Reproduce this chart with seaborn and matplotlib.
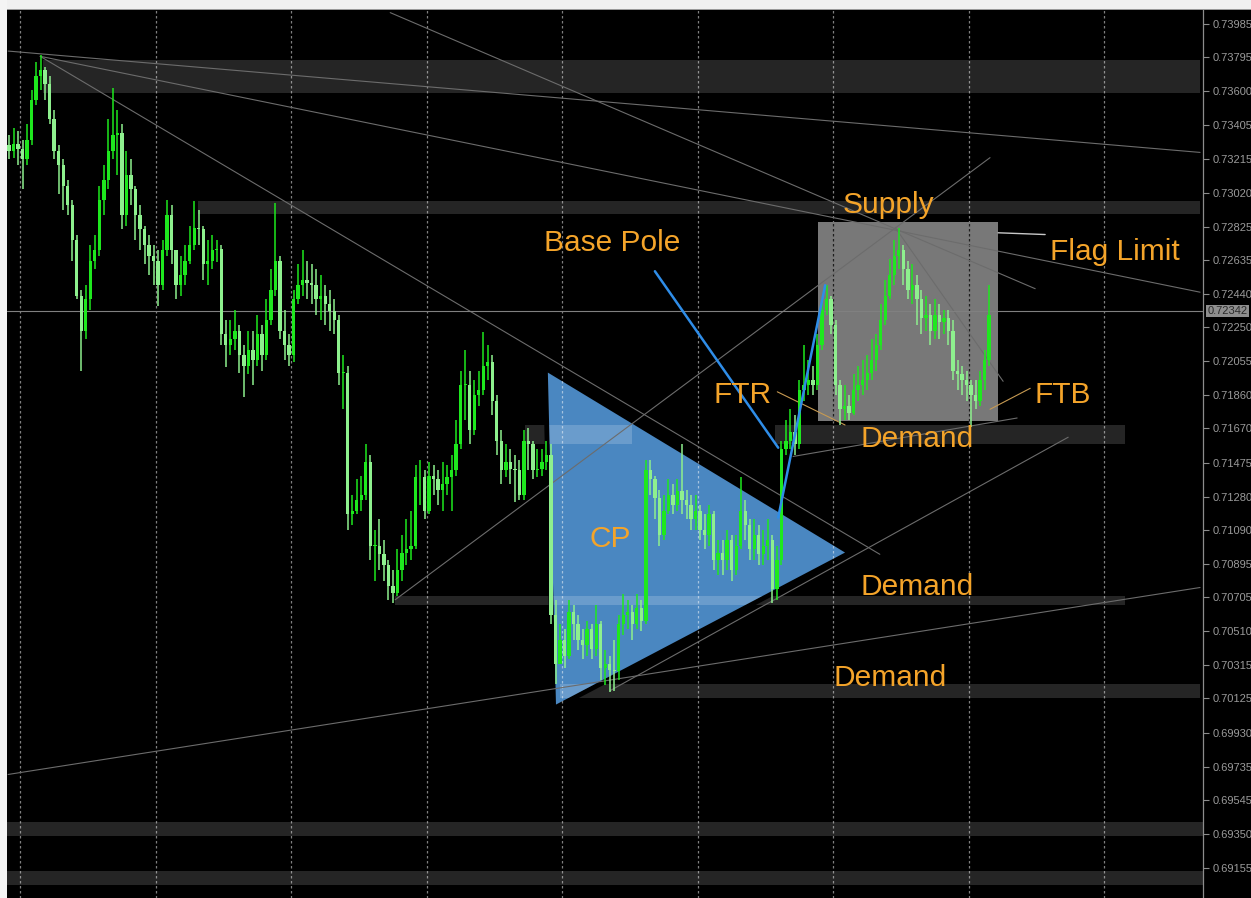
import numpy as np
import pandas as pd
import seaborn as sns
from matplotlib import pyplot as plt
from matplotlib.patches import Polygon, Rectangle

# ---- candle data (bar index 0..217), open of each bar = previous close ----
first_open = 0.7329
closes = [
    0.7326, 0.7330, 0.7327, 0.7321, 0.7332, 0.7355, 0.7369, 0.7372, 0.7364, 0.7344,
    0.7326, 0.7318, 0.7306, 0.7295, 0.7275, 0.7243, 0.7223, 0.7241, 0.7263, 0.7269,
    0.7298, 0.7309, 0.7326, 0.7335, 0.7336, 0.7289, 0.7312, 0.7304, 0.7289, 0.7281,
    0.7272, 0.7266, 0.7263, 0.7249, 0.7269, 0.7289, 0.7269, 0.7249, 0.7255, 0.7263,
    0.7272, 0.7282, 0.7281, 0.7261, 0.7263, 0.7269, 0.7270, 0.7221, 0.7215, 0.7218,
    0.7223, 0.7209, 0.7203, 0.7212, 0.7206, 0.7221, 0.7209, 0.7229, 0.7246, 0.7263,
    0.7223, 0.7215, 0.7209, 0.7241, 0.7249, 0.7252, 0.7250, 0.7249, 0.7241, 0.7243,
    0.7238, 0.7234, 0.7229, 0.7199, 0.7199, 0.7118, 0.7120, 0.7126, 0.7129, 0.7148,
    0.7100, 0.7100, 0.7095, 0.7089, 0.7077, 0.7073, 0.7086, 0.7096, 0.7098, 0.7100,
    0.7139, 0.7139, 0.7120, 0.7140, 0.7138, 0.7132, 0.7135, 0.7139, 0.7143, 0.7158,
    0.7192, 0.7192, 0.7166, 0.7186, 0.7189, 0.7203, 0.7205, 0.7183, 0.7160, 0.7143,
    0.7148, 0.7144, 0.7143, 0.7129, 0.7160, 0.7158, 0.7143, 0.7144, 0.7148, 0.7152,
    0.7060, 0.7032, 0.7046, 0.7037, 0.7062, 0.7055, 0.7046, 0.7043, 0.7052, 0.7041,
    0.7055, 0.7030, 0.7032, 0.7029, 0.7028, 0.7055, 0.7060, 0.7062, 0.7055, 0.7064,
    0.7057, 0.7143, 0.7138, 0.7127, 0.7106, 0.7120, 0.7129, 0.7123, 0.7131, 0.7126,
    0.7123, 0.7115, 0.7120, 0.7109, 0.7106, 0.7118, 0.7092, 0.7096, 0.7092, 0.7103,
    0.7086, 0.7100, 0.7120, 0.7112, 0.7098, 0.7106, 0.7095, 0.7100, 0.7103, 0.7075,
    0.7092, 0.7155, 0.7160, 0.7165, 0.7158, 0.7189, 0.7192, 0.7195, 0.7192, 0.7215,
    0.7235, 0.7241, 0.7226, 0.7192, 0.7178, 0.7180, 0.7176, 0.7189, 0.7192, 0.7195,
    0.7199, 0.7206, 0.7215, 0.7229, 0.7243, 0.7255, 0.7266, 0.7269, 0.7258, 0.7246,
    0.7249, 0.7241, 0.7230, 0.7232, 0.7223, 0.7232, 0.7228, 0.7230, 0.7223, 0.7200,
    0.7198, 0.7195, 0.7192, 0.7186, 0.7183, 0.7195, 0.7206, 0.7232,
]
highs = [
    0.7335, 0.7339, 0.7337, 0.7332, 0.7341, 0.7361, 0.7377, 0.7381, 0.7374, 0.7369,
    0.7349, 0.7329, 0.7321, 0.7309, 0.7298, 0.7278, 0.7246, 0.7249, 0.7272, 0.7278,
    0.7306, 0.7318, 0.7344, 0.7362, 0.7349, 0.7341, 0.7326, 0.7321, 0.7306, 0.7295,
    0.7283, 0.7278, 0.7272, 0.7269, 0.7275, 0.7298, 0.7295, 0.7269, 0.7266, 0.7272,
    0.7283, 0.7297, 0.7292, 0.7283, 0.7275, 0.7278, 0.7275, 0.7272, 0.7229, 0.7229,
    0.7235, 0.7226, 0.7215, 0.7223, 0.7223, 0.7232, 0.7226, 0.7241, 0.7258, 0.7296,
    0.7266, 0.7235, 0.7221, 0.7246, 0.7261, 0.7269, 0.7263, 0.7261, 0.7258, 0.7255,
    0.7249, 0.7246, 0.7241, 0.7232, 0.7209, 0.7203, 0.7129, 0.7138, 0.7140, 0.7158,
    0.7152, 0.7109, 0.7115, 0.7103, 0.7092, 0.7086, 0.7098, 0.7106, 0.7115, 0.7120,
    0.7146, 0.7149, 0.7143, 0.7148, 0.7146, 0.7143, 0.7148, 0.7146, 0.7152, 0.7172,
    0.7200, 0.7212, 0.7200, 0.7195, 0.7200, 0.7222, 0.7215, 0.7209, 0.7186, 0.7166,
    0.7158, 0.7155, 0.7152, 0.7149, 0.7166, 0.7167, 0.7160, 0.7155, 0.7155, 0.7160,
    0.7158, 0.7069, 0.7055, 0.7052, 0.7069, 0.7066, 0.7060, 0.7052, 0.7057, 0.7055,
    0.7066, 0.7057, 0.7040, 0.7037, 0.7046, 0.7060, 0.7072, 0.7069, 0.7066, 0.7072,
    0.7069, 0.7149, 0.7149, 0.7140, 0.7132, 0.7129, 0.7138, 0.7135, 0.7138, 0.7158,
    0.7132, 0.7129, 0.7129, 0.7123, 0.7118, 0.7123, 0.7120, 0.7103, 0.7103, 0.7109,
    0.7106, 0.7106, 0.7139, 0.7126, 0.7115, 0.7115, 0.7112, 0.7109, 0.7115, 0.7106,
    0.7100, 0.7160, 0.7172, 0.7178, 0.7175, 0.7195, 0.7215, 0.7206, 0.7203, 0.7221,
    0.7241, 0.7249, 0.7243, 0.7229, 0.7195, 0.7192, 0.7186, 0.7198, 0.7203, 0.7206,
    0.7209, 0.7218, 0.7221, 0.7238, 0.7252, 0.7264, 0.7275, 0.7282, 0.7272, 0.7263,
    0.7261, 0.7255, 0.7246, 0.7243, 0.7238, 0.7241, 0.7238, 0.7235, 0.7235, 0.7229,
    0.7206, 0.7203, 0.7200, 0.7195, 0.7195, 0.7200, 0.7212, 0.7249,
]
lows = [
    0.7321, 0.7322, 0.7318, 0.7304, 0.7318, 0.7329, 0.7352, 0.7361, 0.7355, 0.7341,
    0.7321, 0.7301, 0.7292, 0.7289, 0.7263, 0.7241, 0.7200, 0.7218, 0.7235, 0.7258,
    0.7266, 0.7289, 0.7304, 0.7321, 0.7312, 0.7281, 0.7283, 0.7295, 0.7275, 0.7269,
    0.7261, 0.7255, 0.7249, 0.7237, 0.7246, 0.7266, 0.7261, 0.7241, 0.7243, 0.7249,
    0.7261, 0.7269, 0.7272, 0.7252, 0.7249, 0.7258, 0.7262, 0.7215, 0.7202, 0.7209,
    0.7212, 0.7199, 0.7185, 0.7198, 0.7192, 0.7203, 0.7200, 0.7206, 0.7226, 0.7243,
    0.7218, 0.7206, 0.7203, 0.7205, 0.7238, 0.7243, 0.7241, 0.7238, 0.7232, 0.7229,
    0.7226, 0.7223, 0.7221, 0.7192, 0.7178, 0.7109, 0.7112, 0.7118, 0.7120, 0.7126,
    0.7092, 0.7080, 0.7086, 0.7080, 0.7069, 0.7067, 0.7071, 0.7080, 0.7089, 0.7092,
    0.7098, 0.7123, 0.7115, 0.7118, 0.7129, 0.7123, 0.7120, 0.7129, 0.7120, 0.7140,
    0.7155, 0.7172, 0.7158, 0.7163, 0.7180, 0.7186, 0.7195, 0.7175, 0.7152, 0.7135,
    0.7139, 0.7135, 0.7125, 0.7126, 0.7126, 0.7143, 0.7138, 0.7139, 0.7140, 0.7143,
    0.7055, 0.7021, 0.7032, 0.7030, 0.7035, 0.7046, 0.7040, 0.7035, 0.7037, 0.7035,
    0.7037, 0.7023, 0.7020, 0.7016, 0.7017, 0.7023, 0.7049, 0.7052, 0.7046, 0.7052,
    0.7051, 0.7055, 0.7129, 0.7115, 0.7100, 0.7103, 0.7118, 0.7118, 0.7120, 0.7118,
    0.7115, 0.7109, 0.7109, 0.7103, 0.7098, 0.7100, 0.7086, 0.7083, 0.7083, 0.7086,
    0.7080, 0.7083, 0.7098, 0.7103, 0.7092, 0.7092, 0.7089, 0.7089, 0.7092, 0.7067,
    0.7069, 0.7089, 0.7152, 0.7155, 0.7152, 0.7155, 0.7183, 0.7186, 0.7186, 0.7189,
    0.7212, 0.7232, 0.7221, 0.7186, 0.7169, 0.7172, 0.7172, 0.7175, 0.7183, 0.7186,
    0.7189, 0.7195, 0.7200, 0.7212, 0.7226, 0.7241, 0.7249, 0.7258, 0.7249, 0.7241,
    0.7238, 0.7226, 0.7221, 0.7223, 0.7215, 0.7218, 0.7218, 0.7221, 0.7215, 0.7195,
    0.7189, 0.7186, 0.7183, 0.7168, 0.7178, 0.7180, 0.7189, 0.7203,
]

# right price scale
price_ticks = [0.73985, 0.73795, 0.73600, 0.73405, 0.73215, 0.73020, 0.72825,
               0.72635, 0.72440, 0.72250, 0.72055, 0.71860, 0.71670, 0.71475,
               0.71280, 0.71090, 0.70895, 0.70705, 0.70510, 0.70315, 0.70125,
               0.69930, 0.69735, 0.69545, 0.69350, 0.69155]
tick_labels = ["%.5f" % t for t in price_ticks]
last_price = 0.72342

# period separators (bar index)
separators = [2.44, 32.44, 62.44, 92.44, 122.44, 152.44, 182.44, 212.44, 242.44]

# supply / demand zones: (bar from, bar to, price low, price high)
zones = [
    (7.5, 263.7, 0.7359, 0.7378),
    (41.8, 263.7, 0.7290, 0.7297),
    (114.2, 137.9, 0.7158, 0.7169),
    (169.6, 247.1, 0.7158, 0.7169),
    (85.5, 247.1, 0.7066, 0.7071),
    (122.0, 263.7, 0.7013, 0.7021),
    (-1.0, 266.0, 0.6934, 0.6942),
    (-1.0, 266.0, 0.6906, 0.6914),
]

# trend lines: (bar, price) -> (bar, price)
trend_lines = [
    ((-0.2, 0.7383), (263.7, 0.7325)),
    ((6.9, 0.7380), (263.7, 0.7245)),
    ((6.9, 0.7380), (192.8, 0.7095)),
    ((84.4, 0.7405), (227.2, 0.7247)),
    ((85.5, 0.7069), (217.2, 0.7322)),
    ((196.2, 0.7282), (220.1, 0.7194)),
    ((-0.2, 0.6969), (263.7, 0.7076)),
    ((133.1, 0.7017), (234.5, 0.7162)),
    ((173.6, 0.7151), (223.2, 0.7173)),
]
flag_limit = ((219.0, 0.7279), (229.4, 0.7278))
base_pole = ((143.0, 0.7257), (170.3, 0.7156))
pole = ((170.3, 0.7116), (180.7, 0.7249))
ftr_pointer = ((170.1, 0.7188), (185.1, 0.7169))
ftb_pointer = ((217.2, 0.7178), (226.1, 0.7190))

triangle = [(119.3, 0.7199), (121.1, 0.7009), (185.1, 0.7096)]
flag_box = (179.1, 219.0, 0.7171, 0.7285)

labels = [
    ("Supply", 194.6, 0.7295),
    ("Base Pole", 133.5, 0.7273),
    ("Flag Limit", 244.9, 0.7268),
    ("FTR", 162.3, 0.7186),
    ("FTB", 233.4, 0.7186),
    ("Demand", 201.0, 0.7161),
    ("CP", 133.1, 0.7104),
    ("Demand", 201.0, 0.7076),
    ("Demand", 195.1, 0.7024),
]

sns.set_theme(style="dark", rc={"axes.facecolor": "black",
                                "figure.facecolor": "black",
                                "axes.grid": False})
plt.rcParams['font.family'] = ['DejaVu Sans']

fig = plt.figure(figsize=(12.51, 8.98), dpi=100)
ax = fig.add_axes([7 / 1251, 0, 1196 / 1251, 888 / 898])
ax.set_xlim(-0.443, 264.35)
ax.set_ylim(0.68983, 0.74065)

# triangle: black rim, blue fill
ax.add_patch(Polygon(triangle, closed=True, facecolor='none', edgecolor='black',
                     linewidth=7, joinstyle='miter', zorder=2))
tri_fill = Polygon(triangle, closed=True, facecolor='#4a87c1', edgecolor='none', zorder=2.1)
ax.add_patch(tri_fill)

# zones, and a lighter copy of them over the triangle
for x0, x1, p0, p1 in zones:
    ax.add_patch(Rectangle((x0, p0), x1 - x0, p1 - p0, facecolor='white',
                           alpha=0.15, edgecolor='none', zorder=1))
    r = Rectangle((x0, p0), x1 - x0, p1 - p0, facecolor='white',
                  alpha=0.18, edgecolor='none', zorder=2.2)
    ax.add_patch(r)
    r.set_clip_path(tri_fill)

# period separators
ax.vlines(separators, 0.68983, 0.74065, colors='white', alpha=0.5,
          linestyles=(0, (2, 2)), linewidth=0.9, zorder=2.3)

# flag box
bx0, bx1, bp0, bp1 = flag_box
ax.add_patch(Rectangle((bx0, bp0), bx1 - bx0, bp1 - bp0, facecolor='#787878',
                       edgecolor='none', zorder=3))
inside = [s for s in separators if bx0 < s < bx1]
ax.vlines(inside, bp0, bp1, colors='#1e1e1e', linestyles=(0, (2, 2)),
          linewidth=0.9, zorder=3.2)

# trend lines via seaborn
rows = []
for k, ((x0, p0), (x1, p1)) in enumerate(trend_lines):
    rows.append({"line": k, "bar": x0, "price": p0})
    rows.append({"line": k, "bar": x1, "price": p1})
lines_df = pd.DataFrame(rows)
sns.lineplot(data=lines_df, x="bar", y="price", units="line", estimator=None,
             color="#6c6c6c", linewidth=0.8, ax=ax, zorder=4)

ax.axhline(last_price, color='#808080', linewidth=0.8, zorder=4)
ax.plot(*zip(*flag_limit), color='#c8c8c8', linewidth=1.0, zorder=4)
ax.plot(*zip(*ftr_pointer), color='#c79a52', linewidth=0.8, zorder=4)
ax.plot(*zip(*ftb_pointer), color='#c79a52', linewidth=0.8, zorder=4)

# candles
idx = np.arange(len(closes))
c = np.array(closes)
o = np.array([first_open] + closes[:-1])
h = np.array(highs)
l = np.array(lows)
bull = c >= o
colors = np.where(bull, '#1ee81e', '#8ef08e')
ax.vlines(idx, l, h, colors=colors, linewidth=1.1, zorder=5)
body = np.maximum(np.abs(c - o), 0.00003)
ax.bar(idx, body, bottom=np.minimum(c, o), width=0.74, color=colors,
       linewidth=0, zorder=6)

# blue pole lines
ax.plot(*zip(*base_pole), color='#2f8de8', linewidth=1.8, zorder=7)
ax.plot(*zip(*pole), color='#2f8de8', linewidth=1.8, zorder=7)

for text, xb, pr in labels:
    ax.text(xb, pr, text, color='#f4a42a', fontsize=21.5, ha='center', va='center',
            family=['Liberation Sans', 'DejaVu Sans'], zorder=8)

# right price axis
ax.yaxis.tick_right()
ax.set_yticks(price_ticks)
ax.set_yticklabels(tick_labels)
ax.tick_params(axis='y', colors='#8c8c8c', labelcolor='#9a9a9a', labelsize=8,
               length=4, width=0.8, pad=3, labelfontfamily='Liberation Sans')
ax.tick_params(axis='x', bottom=False, labelbottom=False)
ax.set_xlabel('')
ax.set_ylabel('')
for side in ['left', 'top', 'bottom']:
    ax.spines[side].set_visible(False)
ax.spines['right'].set_color('#8c8c8c')
ax.spines['right'].set_linewidth(0.9)

ax.text(1.0035, last_price, "%.5f" % last_price, transform=ax.get_yaxis_transform(),
        ha='left', va='center', fontsize=8, color='#2a2a2a',
        family=['Liberation Sans', 'DejaVu Sans'],
        bbox=dict(facecolor='#8e8e8e', edgecolor='none', pad=1.0), clip_on=False, zorder=9)

# window frame strips (top and left)
fig.add_artist(Rectangle((0, 889 / 898), 1, 9 / 898, transform=fig.transFigure,
                         facecolor='#f0f0f0', edgecolor='none'))
fig.add_artist(Rectangle((0, 888 / 898), 1, 1.2 / 898, transform=fig.transFigure,
                         facecolor='#9a9a9a', edgecolor='none'))
fig.add_artist(Rectangle((0, 0), 7 / 1251, 1, transform=fig.transFigure,
                         facecolor='#f4f4f4', edgecolor='none'))

fig.savefig("out.png", dpi=100, facecolor='black')
